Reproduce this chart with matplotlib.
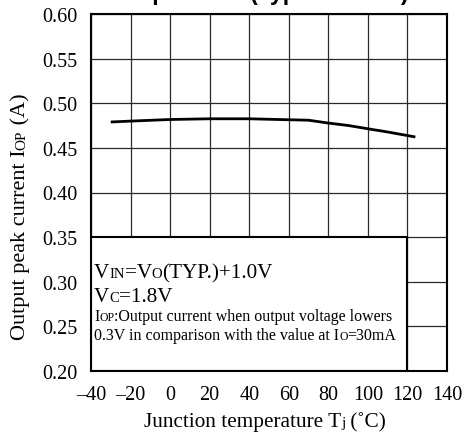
import matplotlib
matplotlib.use('Agg')
import matplotlib.pyplot as plt
from matplotlib.transforms import IdentityTransform
from matplotlib.patches import Rectangle

# ---- data ----
temps = [-30, -20, 0, 20, 40, 60, 70, 80, 90, 100, 110, 124]
iop = [0.479, 0.480, 0.4818, 0.4826, 0.4826, 0.4815, 0.481, 0.4778, 0.4751, 0.4714, 0.4678, 0.4622]
x_ticks = [-40, -20, 0, 20, 40, 60, 80, 100, 120, 140]
y_ticks = [0.20, 0.25, 0.30, 0.35, 0.40, 0.45, 0.50, 0.55, 0.60]
title_text = "Temperature (Typical Value)"

W, H = 469, 435
SERIF = 'Liberation Serif'
plt.rcParams['font.family'] = [SERIF, 'DejaVu Serif']

fig = plt.figure(figsize=(W / 100, H / 100), dpi=100)
ax = fig.add_axes([91 / W, 1 - 372 / H, (447 - 91) / W, (372 - 15) / H])
ax.set_xlim(-40, 140)
ax.set_ylim(0.20, 0.60)
ax.set_xticks(x_ticks)
ax.set_yticks(y_ticks)
ax.set_yticklabels([f"{v:.2f}" for v in y_ticks])
ax.set_xticklabels([str(v).replace('-', '\u2013') for v in x_ticks])
ax.tick_params(length=0, labelsize=14.5, pad=10)
ax.grid(True, color='#2a2a2a', linewidth=0.9, zorder=1)
ax.set_axisbelow(True)
for sp in ax.spines.values():
    sp.set_linewidth(1.5)
    sp.set_zorder(5)

# condition box
ax.add_patch(Rectangle((-40, 0.20), 160, 0.15, facecolor='white',
                       edgecolor='black', linewidth=1.5, zorder=3))

ax.plot(temps, iop, color='black', linewidth=2.0, zorder=4, solid_capstyle='butt')

renderer = fig.canvas.get_renderer()


def rich(x, y, pieces, ha='left', rotation=0):
    """Draw text pieces [(str, size)] on a common baseline; x,y image pixel coords (top-left origin)."""
    texts = []
    widths = []
    for s, size in pieces:
        t = fig.text(0, 0, s, fontsize=size, transform=IdentityTransform(),
                     ha='left', va='baseline', rotation=rotation,
                     rotation_mode='anchor', family=[SERIF, 'DejaVu Serif'])
        bb = t.get_window_extent(renderer)
        widths.append(bb.height if rotation == 90 else bb.width)
        texts.append(t)
    total = sum(widths)
    start = 0
    if ha == 'center':
        start = -total / 2
    d = start
    for t, w in zip(texts, widths):
        if rotation == 90:
            t.set_position((x, (H - y) + d))
        else:
            t.set_position((x + d, H - y))
        d += w


BIG, SMALL, MID, MIDS = 15.2, 10.5, 11.5, 8.5
rich(94, 278, [("V", BIG), ("IN", SMALL), ("=V", BIG), ("O", SMALL), ("(TYP.)+1.0V", BIG)])
rich(94, 302, [("V", BIG), ("C", SMALL), ("=1.8V", BIG)])
rich(94, 321, [("I", MID), ("OP", MIDS), (":Output current when output voltage lowers", MID)])
rich(94, 340, [("0.3V in comparison with the value at I", MID), ("O", MIDS), ("=30mA", MID)])

# axis labels
rich(265, 427, [("Junction temperature T", 15.3), ("j", 11), (" (\u02daC)", 15.3)], ha='center')
rich(25, 217, [("Output peak current I", 16), ("OP", 11), (" (A)", 16)], ha='center', rotation=90)

# title (mostly cut off at top edge in the reference)
fig.text(258 / W, 1 - 0 / H, title_text, fontsize=16.5, fontweight='bold',
         family='Liberation Sans', ha='center', va='baseline')

fig.savefig('out.png', dpi=100)
